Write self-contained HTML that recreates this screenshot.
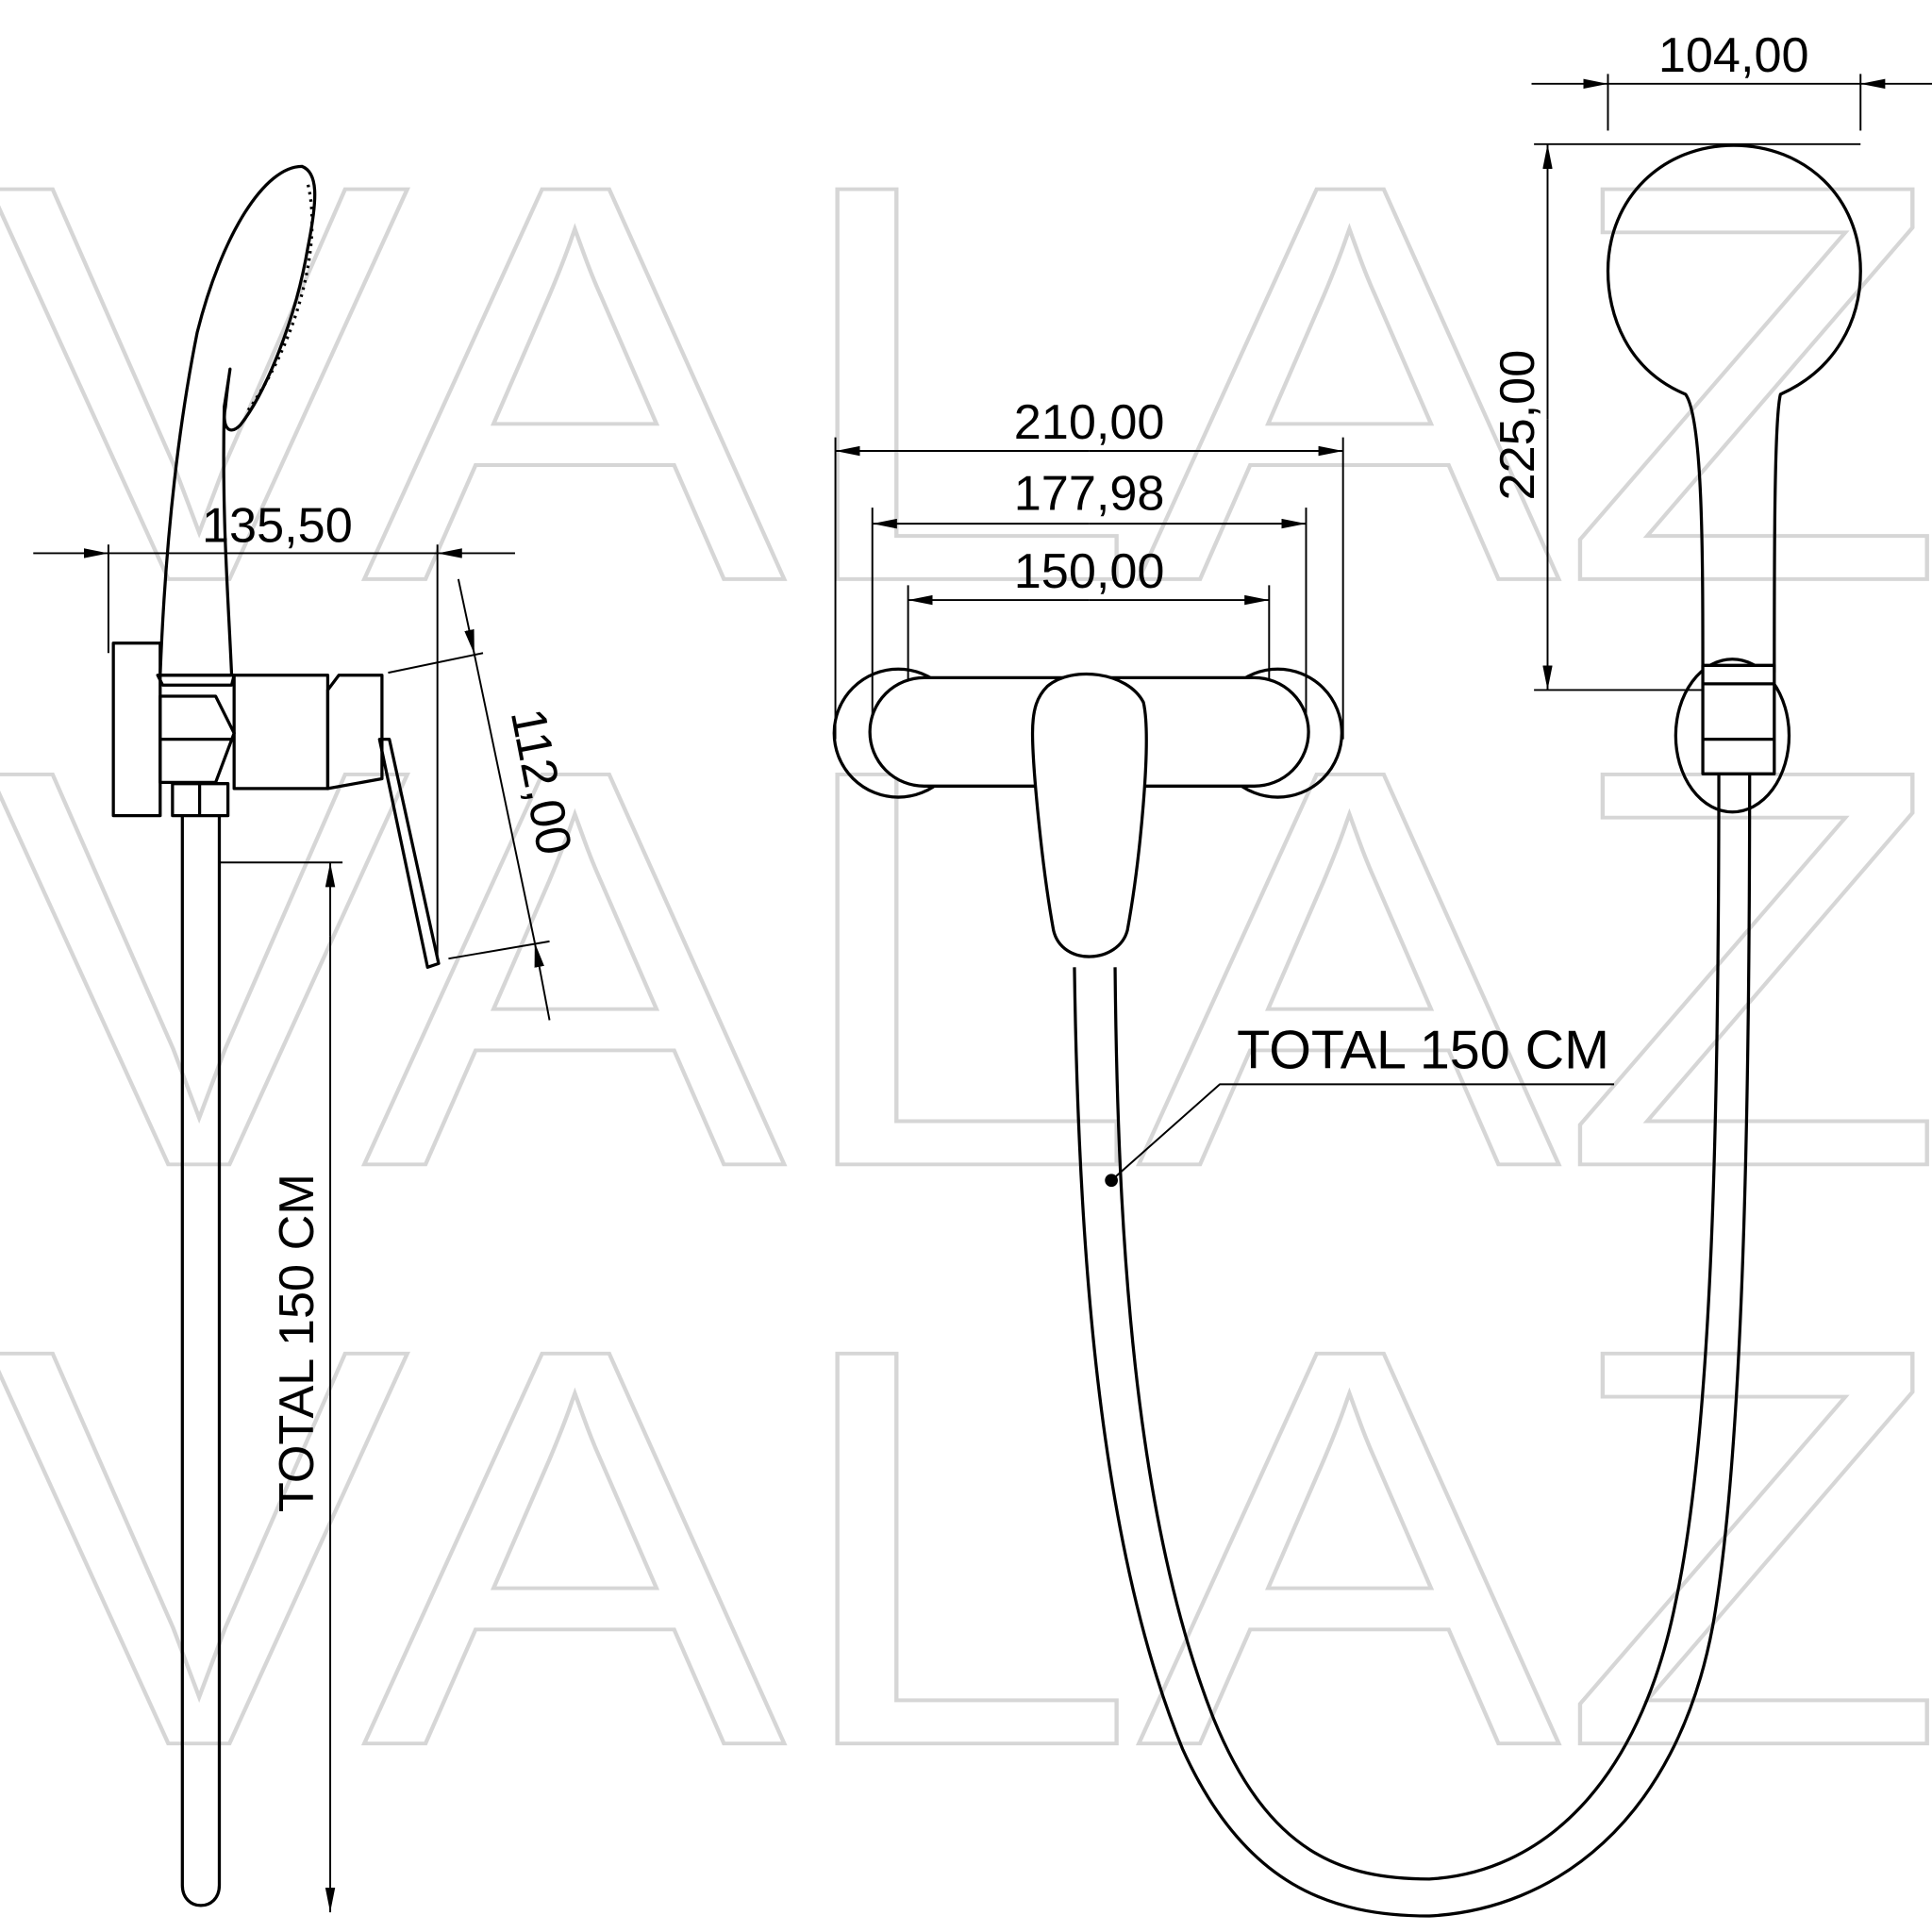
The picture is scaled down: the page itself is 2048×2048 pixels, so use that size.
<!DOCTYPE html>
<html><head><meta charset="utf-8"><style>
html,body{margin:0;padding:0;background:#fff;}
svg{display:block}
</style></head><body>
<svg width="2048" height="2048" viewBox="0 0 1568 1568" xmlns="http://www.w3.org/2000/svg">
<defs>
<marker id="ar" viewBox="0 0 20 8" refX="20" refY="4" markerWidth="20" markerHeight="8" orient="auto-start-reverse" markerUnits="userSpaceOnUse">
<path d="M0,0 L20,4 L0,8 z" fill="#000"/></marker>
</defs>
<rect width="1568" height="1568" fill="#fff"/>
<!-- watermark -->
<g font-family="Liberation Sans, sans-serif" font-size="460" fill="none" stroke="#d6d6d6" stroke-width="3">
<text x="-10" y="470" textLength="1590" lengthAdjust="spacingAndGlyphs">VALAZ</text>
<text x="-10" y="945" textLength="1590" lengthAdjust="spacingAndGlyphs">VALAZ</text>
<text x="-10" y="1415" textLength="1590" lengthAdjust="spacingAndGlyphs">VALAZ</text>
</g>
<g fill="none" stroke="#000" stroke-width="2.5" stroke-linejoin="round">
<!-- LEFT VIEW -->
<line x1="27" y1="449" x2="88" y2="449" marker-end="url(#ar)" stroke-width="1.5"/>
<line x1="88" y1="449" x2="355" y2="449" stroke-width="1.5"/>
<line x1="418" y1="449" x2="355" y2="449" marker-end="url(#ar)" stroke-width="1.5"/>
<line x1="88" y1="442" x2="88" y2="530" stroke-width="1.5"/>
<line x1="355" y1="442" x2="355" y2="780" stroke-width="1.5"/>
<path d="M130,548 C133,470 140,370 160,270 C180,190 215,135 245,135 C258,140 258,160 250,200 C240,260 215,320 195,345 C185,355 180,345 183,330 C186,300 190,280 182,330 C180,420 185,480 188,548 Z"/>
<path d="M250,150 C262,200 240,280 200,335" stroke-dasharray="2 4"/>
<path d="M128,548 L190,548 L188,556 L132,556 Z"/>
<rect x="92" y="522" width="38" height="140"/>
<path d="M130,565 L175,565 L190,595 L175,635 L130,635 Z"/>
<line x1="130" y1="600" x2="190" y2="600"/>
<rect x="190" y="548" width="76" height="92"/>
<path d="M266,560 L275,548 L310,548 L310,632 L266,640 Z"/>
<path d="M308,600 L316,600 L356,782 L347,785 Z"/>
<rect x="140" y="636" width="45" height="26"/>
<line x1="162" y1="636" x2="162" y2="662"/>
<path d="M148,662 L148,1530 C148,1552 178,1552 178,1530 L178,662"/>
<line x1="178" y1="700" x2="278" y2="700" stroke-width="1.5"/>
<line x1="268" y1="760" x2="268" y2="700" marker-end="url(#ar)" stroke-width="1.5"/>
<line x1="268" y1="760" x2="268" y2="1552" marker-end="url(#ar)" stroke-width="1.5"/>
<line x1="315" y1="546" x2="392" y2="530" stroke-width="1.5"/>
<line x1="364" y1="778" x2="446" y2="764" stroke-width="1.5"/>
<line x1="372" y1="470" x2="385" y2="531" marker-end="url(#ar)" stroke-width="1.5"/>
<line x1="385" y1="531" x2="434" y2="765" stroke-width="1.5"/>
<line x1="446" y1="828" x2="434" y2="765" marker-end="url(#ar)" stroke-width="1.5"/>

<!-- MIDDLE VIEW -->
<line x1="678" y1="355" x2="678" y2="600" stroke-width="1.5"/>
<line x1="1090" y1="355" x2="1090" y2="600" stroke-width="1.5"/>
<line x1="708" y1="412" x2="708" y2="595" stroke-width="1.5"/>
<line x1="1060" y1="412" x2="1060" y2="595" stroke-width="1.5"/>
<line x1="737" y1="475" x2="737" y2="582" stroke-width="1.5"/>
<line x1="1030" y1="475" x2="1030" y2="582" stroke-width="1.5"/>
<line x1="884" y1="366" x2="678" y2="366" marker-end="url(#ar)" stroke-width="1.5"/>
<line x1="884" y1="366" x2="1090" y2="366" marker-end="url(#ar)" stroke-width="1.5"/>
<line x1="884" y1="425" x2="708" y2="425" marker-end="url(#ar)" stroke-width="1.5"/>
<line x1="884" y1="425" x2="1060" y2="425" marker-end="url(#ar)" stroke-width="1.5"/>
<line x1="884" y1="487" x2="737" y2="487" marker-end="url(#ar)" stroke-width="1.5"/>
<line x1="884" y1="487" x2="1030" y2="487" marker-end="url(#ar)" stroke-width="1.5"/>
<circle cx="729" cy="595" r="52"/>
<circle cx="1037" cy="595" r="52"/>
<rect x="706" y="550" width="356" height="88" rx="44" fill="#fff"/>
<path d="M850,557 C870,540 915,545 928,570 C935,600 925,700 915,755 C908,782 862,785 855,755 C845,700 838,620 838,595 C838,575 842,565 850,557 Z" fill="#fff"/>
<path d="M872,785 C875,1000 890,1250 960,1420 C1010,1530 1080,1555 1160,1555 C1260,1550 1360,1480 1390,1320 C1415,1180 1420,900 1420,625"/>
<path d="M905,785 C907,1000 920,1230 985,1395 C1030,1505 1090,1525 1160,1525 C1250,1520 1330,1450 1360,1300 C1390,1160 1395,900 1395,625"/>
<circle cx="902" cy="958" r="4" fill="#000"/>
<path d="M902,958 L990,880 L1310,880" stroke-width="1.5"/>

<!-- RIGHT VIEW -->
<line x1="1305" y1="60" x2="1305" y2="106" stroke-width="1.5"/>
<line x1="1510" y1="60" x2="1510" y2="106" stroke-width="1.5"/>
<line x1="1243" y1="68" x2="1305" y2="68" marker-end="url(#ar)" stroke-width="1.5"/>
<line x1="1305" y1="68" x2="1510" y2="68" stroke-width="1.5"/>
<line x1="1568" y1="68" x2="1510" y2="68" marker-end="url(#ar)" stroke-width="1.5"/>
<line x1="1245" y1="117" x2="1510" y2="117" stroke-width="1.5"/>
<line x1="1245" y1="560" x2="1385" y2="560" stroke-width="1.5"/>
<line x1="1256" y1="340" x2="1256" y2="117" marker-end="url(#ar)" stroke-width="1.5"/>
<line x1="1256" y1="340" x2="1256" y2="560" marker-end="url(#ar)" stroke-width="1.5"/>
<path d="M1368,320 C1320,300 1305,255 1305,220 C1305,160 1350,118 1407,118 C1465,118 1510,160 1510,220 C1510,260 1490,300 1445,320 C1440,340 1440,450 1440,545 L1382,545 C1382,450 1382,340 1368,320 Z"/>
<ellipse cx="1406" cy="597" rx="46" ry="62"/>
<rect x="1382" y="540" width="58" height="88" fill="#fff"/>
<line x1="1382" y1="555" x2="1440" y2="555"/>
<line x1="1382" y1="600" x2="1440" y2="600"/>
</g>
<g font-family="Liberation Sans, sans-serif" font-size="40" fill="#000" text-anchor="middle">
<text x="225" y="440">135,50</text>
<text x="884" y="356">210,00</text>
<text x="884" y="414">177,98</text>
<text x="884" y="477">150,00</text>
<text x="1407" y="58">104,00</text>
<text transform="translate(1245,345) rotate(-90)">225,00</text>
<text transform="translate(254,1090) rotate(-90)">TOTAL 150 CM</text>
<text transform="translate(426,637) rotate(79)">112,00</text>
<text x="1155" y="867" font-size="44">TOTAL 150 CM</text>
</g>
</svg>
</body></html>
